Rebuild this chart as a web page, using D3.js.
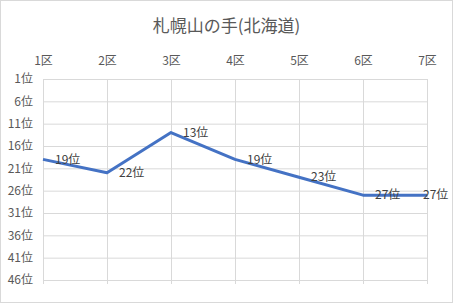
<!DOCTYPE html>
<html>
<head>
<meta charset="utf-8">
<script src="https://cdn.jsdelivr.net/npm/d3@7"></script>
<style>
  body { margin: 0; background: #fff; }
  text { font-family: "Noto Sans CJK JP", "Noto Sans", sans-serif; }
</style>
</head>
<body>
<div class="chart"></div>
<script>
// chart data
var categories = ['1区', '2区', '3区', '4区', '5区', '6区', '7区'];
var ranks = [19, 22, 13, 19, 23, 27, 27];
var rankTicks = [1, 6, 11, 16, 21, 26, 31, 36, 41, 46];
var title = '札幌山の手(北海道)';

var width = 453;
var height = 303;
var plotLeft = 43;
var plotRight = 427;
var plotTop = 79;
var plotBottom = 280;

var svg = d3.select('.chart').append('svg')
  .attr('width', width)
  .attr('height', height);

// outer border
svg.append('rect')
  .attr('x', 0.5).attr('y', 0.5)
  .attr('width', width - 1).attr('height', height - 1)
  .attr('fill', '#fff')
  .attr('stroke', '#d9d9d9');

// title
svg.append('text')
  .attr('x', width / 2)
  .attr('y', 32)
  .attr('text-anchor', 'middle')
  .attr('fill', '#595959')
  .style('font-size', '17px')
  .text(title);

// scales: categories across, rank 1 at top
var xScale = d3.scalePoint()
  .domain(categories)
  .range([plotLeft, plotRight]);

var yScale = d3.scaleLinear()
  .domain([1, 46])
  .range([plotTop, plotBottom]);

// horizontal gridlines
svg.append('g')
  .attr('transform', 'translate(' + plotLeft + ',0)')
  .call(d3.axisLeft(yScale).tickValues(rankTicks).tickSize(-(plotRight - plotLeft)).tickFormat(''))
  .call(function(g) {
    g.select('.domain').remove();
    g.selectAll('line').attr('stroke', '#d9d9d9');
  });

// vertical gridlines with small tick below
svg.append('g')
  .attr('transform', 'translate(0,' + (plotBottom + 4) + ')')
  .call(d3.axisBottom(xScale).tickSize(-(plotBottom + 4 - plotTop)).tickFormat(''))
  .call(function(g) {
    g.select('.domain').remove();
    g.selectAll('line').attr('stroke', '#d9d9d9');
  });

// category labels along the top
svg.append('g')
  .attr('transform', 'translate(0,' + plotTop + ')')
  .call(d3.axisTop(xScale).tickSize(0).tickPadding(14))
  .call(function(g) {
    g.select('.domain').remove();
    g.selectAll('text')
      .attr('fill', '#595959')
      .style('font-size', '12px')
      .style('font-family', '"Noto Sans CJK JP", sans-serif');
  });

// rank labels on the left
svg.append('g')
  .attr('transform', 'translate(' + plotLeft + ',0)')
  .call(d3.axisLeft(yScale).tickValues(rankTicks).tickSize(0).tickPadding(10)
    .tickFormat(function(d) { return d + '位'; }))
  .call(function(g) {
    g.select('.domain').remove();
    g.selectAll('text')
      .attr('fill', '#595959')
      .style('font-size', '12px')
      .style('font-family', '"Noto Sans CJK JP", sans-serif');
  });

// line
var line = d3.line()
  .x(function(d, i) { return xScale(categories[i]); })
  .y(function(d) { return yScale(d); });

svg.append('path')
  .datum(ranks)
  .attr('d', line)
  .attr('fill', 'none')
  .attr('stroke', '#4472c4')
  .attr('stroke-width', 3)
  .attr('stroke-linejoin', 'round');

// data labels to the right of each point
svg.selectAll('.data-label')
  .data(ranks)
  .enter()
  .append('text')
  .attr('class', 'data-label')
  .attr('x', function(d, i) { return Math.min(xScale(categories[i]) + 12, width - 30); })
  .attr('y', function(d) { return yScale(d); })
  .attr('dy', '0.35em')
  .attr('fill', '#404040')
  .style('font-size', '12px')
  .text(function(d) { return d + '位'; });
</script>
</body>
</html>
